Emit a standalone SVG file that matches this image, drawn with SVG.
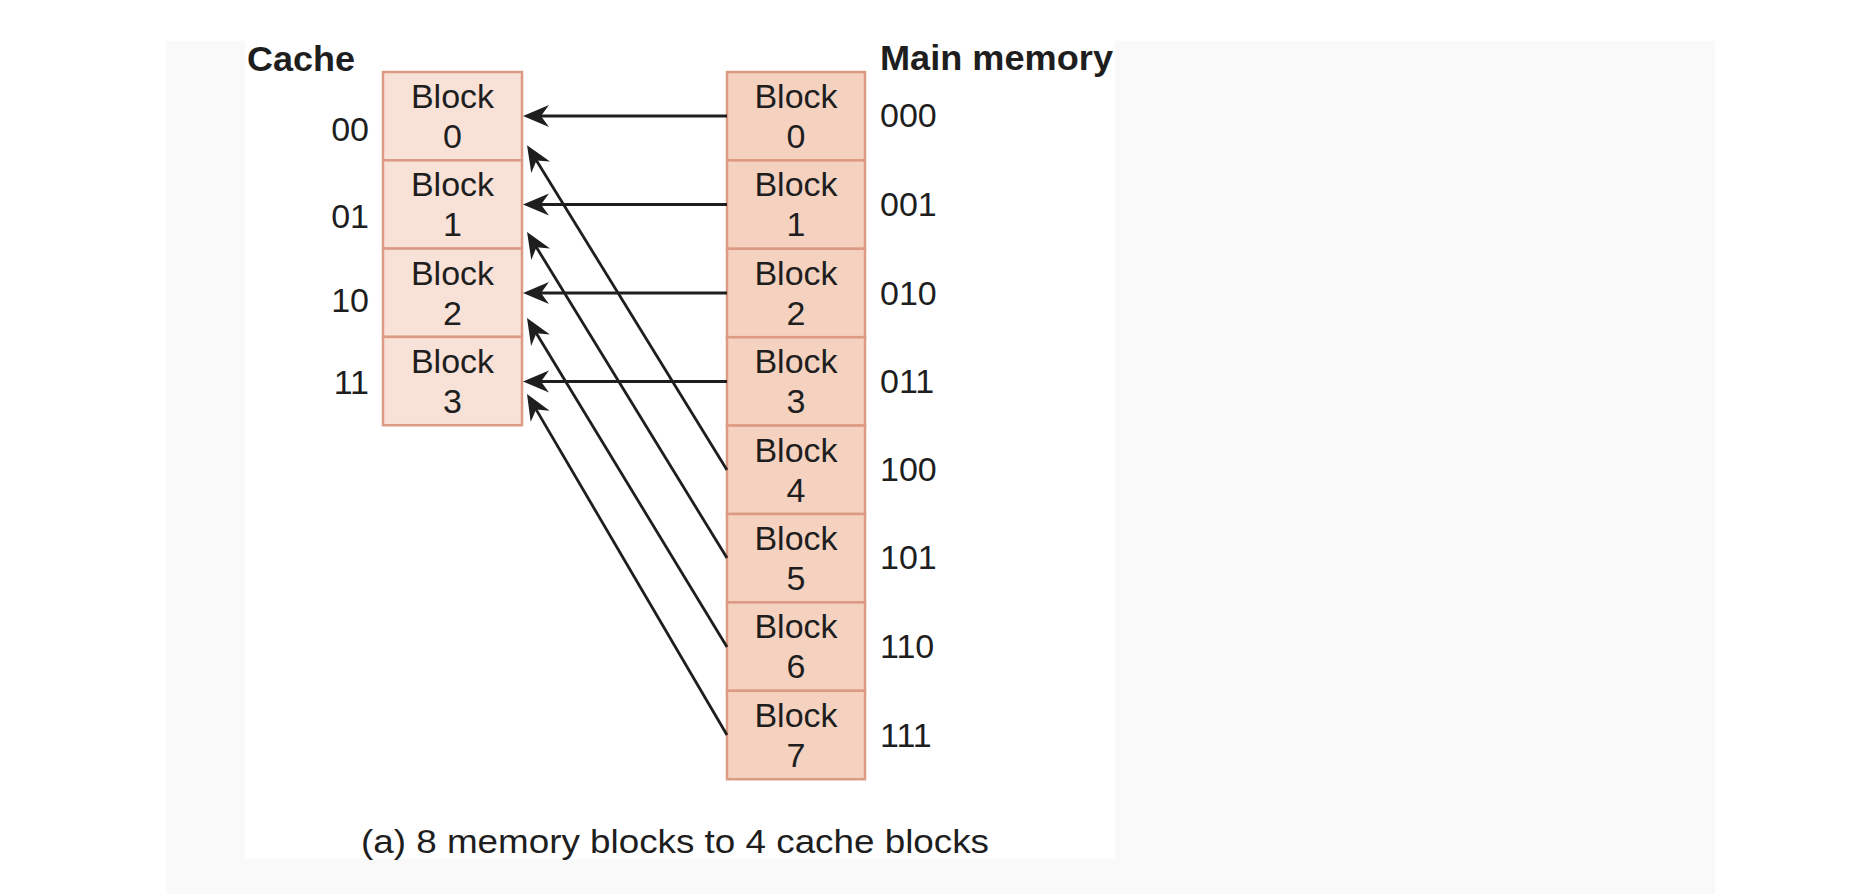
<svg xmlns="http://www.w3.org/2000/svg" width="1858" height="894" viewBox="0 0 1858 894">
<style>
.t{font-family:"Liberation Sans",Arial,sans-serif;font-size:34px;fill:#1e1e1e}
.b{font-family:"Liberation Sans",Arial,sans-serif;font-size:35px;font-weight:bold;fill:#1e1e1e}
.c{fill:#f8e2d8;stroke:#dc9a85;stroke-width:2.5}
.m{fill:#f5d2c0;stroke:#dc9a85;stroke-width:2.5}
.a{stroke:#1e1e1e;stroke-width:2.8;fill:none;marker-end:url(#ah)}
</style>
<defs>
<marker id="ah" markerUnits="userSpaceOnUse" viewBox="0 -13 28 26" refX="11" refY="0" markerWidth="28" markerHeight="26" orient="auto">
<path d="M26,0 L0,-11 L8,0 L0,11 Z" fill="#1e1e1e"/>
</marker>
</defs>
<rect x="0" y="0" width="1858" height="894" fill="#ffffff"/>
<rect x="166" y="41" width="1549" height="853" fill="#f9f9f9"/>
<rect x="245" y="41" width="870" height="818" fill="#ffffff"/>

<text class="b" x="247" y="71" textLength="108" lengthAdjust="spacingAndGlyphs">Cache</text>
<text class="b" x="880" y="70" textLength="233" lengthAdjust="spacingAndGlyphs">Main memory</text>

<g id="cache0"><rect class="c" x="383" y="72" width="139" height="88.3"/><text class="t" x="452.5" y="108" text-anchor="middle">Block</text><text class="t" x="452.5" y="148" text-anchor="middle">0</text><text class="t" x="369" y="141" text-anchor="end">00</text></g>
<g id="cache1"><rect class="c" x="383" y="160.3" width="139" height="88.3"/><text class="t" x="452.5" y="196.3" text-anchor="middle">Block</text><text class="t" x="452.5" y="236.3" text-anchor="middle">1</text><text class="t" x="369" y="228" text-anchor="end">01</text></g>
<g id="cache2"><rect class="c" x="383" y="248.6" width="139" height="88.3"/><text class="t" x="452.5" y="284.6" text-anchor="middle">Block</text><text class="t" x="452.5" y="324.6" text-anchor="middle">2</text><text class="t" x="369" y="312" text-anchor="end">10</text></g>
<g id="cache3"><rect class="c" x="383" y="336.9" width="139" height="88.3"/><text class="t" x="452.5" y="372.9" text-anchor="middle">Block</text><text class="t" x="452.5" y="412.9" text-anchor="middle">3</text><text class="t" x="369" y="394" text-anchor="end">11</text></g>

<g id="mem0"><rect class="m" x="727" y="72" width="138" height="88.4"/><text class="t" x="796" y="108" text-anchor="middle">Block</text><text class="t" x="796" y="148" text-anchor="middle">0</text><text class="t" x="880" y="127">000</text></g>
<g id="mem1"><rect class="m" x="727" y="160.4" width="138" height="88.4"/><text class="t" x="796" y="196.4" text-anchor="middle">Block</text><text class="t" x="796" y="236.4" text-anchor="middle">1</text><text class="t" x="880" y="216">001</text></g>
<g id="mem2"><rect class="m" x="727" y="248.8" width="138" height="88.4"/><text class="t" x="796" y="284.8" text-anchor="middle">Block</text><text class="t" x="796" y="324.8" text-anchor="middle">2</text><text class="t" x="880" y="305">010</text></g>
<g id="mem3"><rect class="m" x="727" y="337.2" width="138" height="88.4"/><text class="t" x="796" y="373.2" text-anchor="middle">Block</text><text class="t" x="796" y="413.2" text-anchor="middle">3</text><text class="t" x="880" y="393">011</text></g>
<g id="mem4"><rect class="m" x="727" y="425.6" width="138" height="88.4"/><text class="t" x="796" y="461.6" text-anchor="middle">Block</text><text class="t" x="796" y="501.6" text-anchor="middle">4</text><text class="t" x="880" y="481">100</text></g>
<g id="mem5"><rect class="m" x="727" y="514" width="138" height="88.4"/><text class="t" x="796" y="550" text-anchor="middle">Block</text><text class="t" x="796" y="590" text-anchor="middle">5</text><text class="t" x="880" y="569">101</text></g>
<g id="mem6"><rect class="m" x="727" y="602.4" width="138" height="88.4"/><text class="t" x="796" y="638.4" text-anchor="middle">Block</text><text class="t" x="796" y="678.4" text-anchor="middle">6</text><text class="t" x="880" y="658">110</text></g>
<g id="mem7"><rect class="m" x="727" y="690.8" width="138" height="88.4"/><text class="t" x="796" y="726.8" text-anchor="middle">Block</text><text class="t" x="796" y="766.8" text-anchor="middle">7</text><text class="t" x="880" y="747">111</text></g>

<g id="connectors">
<line class="a" x1="727" y1="116" x2="538" y2="116"/>
<line class="a" x1="727" y1="204.5" x2="538" y2="204.5"/>
<line class="a" x1="727" y1="293" x2="538" y2="293"/>
<line class="a" x1="727" y1="381.5" x2="538" y2="381.5"/>
<line class="a" x1="727" y1="470" x2="534.9" y2="157.9"/>
<line class="a" x1="727" y1="558" x2="534.9" y2="244.8"/>
<line class="a" x1="727" y1="647" x2="534.8" y2="330.8"/>
<line class="a" x1="727" y1="735" x2="534.6" y2="406.9"/>
</g>

<text class="t" x="361" y="853" font-size="35" textLength="628" lengthAdjust="spacingAndGlyphs">(a) 8 memory blocks to 4 cache blocks</text>
</svg>
